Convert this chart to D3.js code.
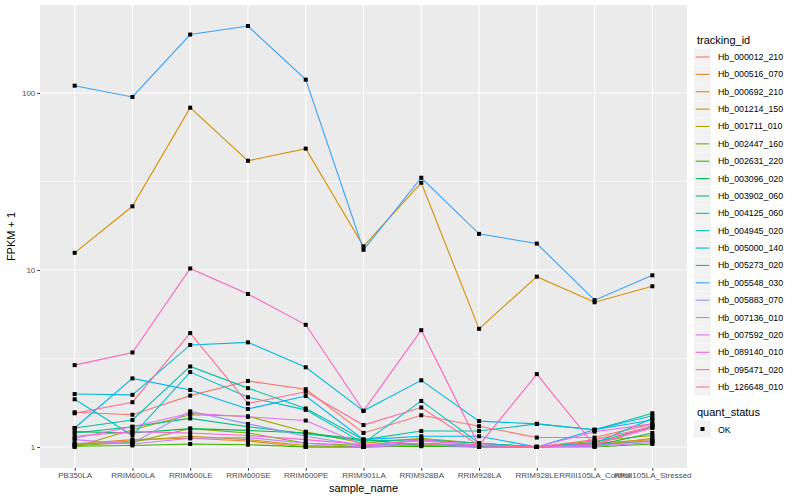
<!DOCTYPE html>
<html><head><meta charset="utf-8">
<script src="https://cdn.jsdelivr.net/npm/d3@7"></script>
<style>body{margin:0;background:#fff}text{font-family:"Liberation Sans",Arial,sans-serif}</style>
</head><body><svg id="c" width="800" height="500"></svg>
<script>
const samples = ["PB350LA","RRIM600LA","RRIM600LE","RRIM600SE","RRIM600PE","RRIM901LA","RRIM928BA","RRIM928LA","RRIM928LE","RRIII105LA_Control","RRIII105LA_Stressed"];
const trackingIds = ["Hb_000012_210","Hb_000516_070","Hb_000692_210","Hb_001214_150","Hb_001711_010","Hb_002447_160","Hb_002631_220","Hb_003096_020","Hb_003902_060","Hb_004125_060","Hb_004945_020","Hb_005000_140","Hb_005273_020","Hb_005548_030","Hb_005883_070","Hb_007136_010","Hb_007592_020","Hb_089140_010","Hb_095471_020","Hb_126648_010"];
const colors = ["#F8766D","#EA8331","#D89000","#C09B00","#A3A500","#7CAE00","#39B600","#00BB4E","#00BF7D","#00C1A3","#00BFC4","#00BAE0","#00B0F6","#35A2FF","#9590FF","#C77CFF","#E76BF3","#FA62DB","#FF62BC","#FF6C91"];
const v000012 = [1.57,1.52,1.95,2.36,2.12,1.20,1.51,1.31,1.13,1.13,1.35];
const v000516 = [1.04,1.10,1.12,1.08,1.00,1.00,1.02,1.00,1.00,1.05,1.10];
const v000692 = [12.5,22.9,82.6,41.4,48.5,13.6,31.1,4.65,9.17,6.57,8.09];
const v001214 = [1.03,1.08,1.15,1.10,1.02,1.00,1.04,1.00,1.00,1.02,1.12];
const v001711 = [1.00,1.25,1.52,1.49,1.22,1.05,1.12,1.05,1.00,1.08,1.16];
const v002447 = [1.02,1.06,1.27,1.20,1.05,1.02,1.05,1.02,1.00,1.03,1.08];
const v002631 = [1.01,1.02,1.04,1.03,1.00,1.00,1.01,1.00,1.00,1.00,1.04];
const v003096 = [1.22,1.20,1.27,1.24,1.20,1.10,1.02,1.01,1.00,1.02,1.20];
const v003902 = [1.20,1.30,1.45,1.30,1.19,1.08,1.10,1.05,1.00,1.06,1.30];
const v004125 = [1.28,1.42,2.85,2.15,1.65,1.10,1.23,1.23,1.35,1.25,1.55];
const v004945 = [1.86,1.16,2.65,1.91,1.62,1.05,1.82,1.05,1.00,1.05,1.45];
const v005000 = [1.99,1.97,3.77,3.90,2.82,1.60,2.38,1.40,1.35,1.25,1.50];
const v005273 = [1.28,2.44,2.10,1.64,1.94,1.10,1.15,1.15,1.00,1.25,1.42];
const v005548 = [110,95,214,239,119,13.0,33.2,16.0,14.1,6.75,9.33];
const v005883 = [1.05,1.05,1.59,1.35,1.15,1.02,1.05,1.02,1.00,1.02,1.08];
const v007136 = [1.10,1.04,1.12,1.13,1.05,1.00,1.03,1.00,1.00,1.01,1.06];
const v007592 = [1.12,1.30,1.55,1.48,1.41,1.02,1.10,1.02,1.00,1.22,1.35];
const v089140 = [1.15,1.22,1.20,1.16,1.10,1.03,1.08,1.03,1.00,1.04,1.28];
const v095471 = [2.90,3.42,10.2,7.32,4.90,1.60,4.57,1.02,2.58,1.02,1.32];
const v126648 = [1.55,1.79,4.40,1.76,2.05,1.33,1.67,1.02,1.00,1.10,1.30];
const seriesValues = [v000012,v000516,v000692,v001214,v001711,v002447,v002631,v003096,v003902,v004125,v004945,v005000,v005273,v005548,v005883,v007136,v007592,v089140,v095471,v126648];
const yTicks = [1,10,100];
const yMinor = [Math.sqrt(10), Math.sqrt(1000)];

const svg = d3.select("#c");
const P = {l:40, r:687, t:5, b:468};
const all = seriesValues.flat();
const lmin = Math.log10(d3.min(all)), lmax = Math.log10(d3.max(all));
const ex = (lmax - lmin) * 0.05;
const y = d3.scaleLog().domain([Math.pow(10, lmin - ex), Math.pow(10, lmax + ex)]).range([P.b, P.t]);
const x = d3.scalePoint().domain(samples).range([P.l, P.r]).padding(0.6);

svg.append("rect").attr("x",P.l).attr("y",P.t).attr("width",P.r-P.l).attr("height",P.b-P.t).attr("fill","#EBEBEB");
const g = svg.append("g");
yMinor.forEach(v => g.append("line").attr("x1",P.l).attr("x2",P.r).attr("y1",y(v)).attr("y2",y(v)).attr("stroke","#fff").attr("stroke-width",0.55));
yTicks.forEach(v => g.append("line").attr("x1",P.l).attr("x2",P.r).attr("y1",y(v)).attr("y2",y(v)).attr("stroke","#fff").attr("stroke-width",1.1));
samples.forEach(s => g.append("line").attr("x1",x(s)).attr("x2",x(s)).attr("y1",P.t).attr("y2",P.b).attr("stroke","#fff").attr("stroke-width",1.1));

const line = d3.line().x((d,i)=>x(samples[i])).y(d=>y(d));
seriesValues.forEach((vals,k) => {
  svg.append("path").attr("d", line(vals)).attr("fill","none").attr("stroke",colors[k]).attr("stroke-width",1.1);
});
seriesValues.forEach(vals => {
  vals.forEach((v,i) => svg.append("rect").attr("x",x(samples[i])-2).attr("y",y(v)-2).attr("width",4).attr("height",4).attr("fill","#000"));
});

// axes
const ya = svg.append("g").attr("transform",`translate(${P.l},0)`).call(d3.axisLeft(y).tickValues(yTicks).tickFormat(d3.format("d")).tickSize(2.7).tickPadding(2));
const xa = svg.append("g").attr("transform",`translate(0,${P.b})`).call(d3.axisBottom(x).tickSize(2.7).tickPadding(2));
[ya,xa].forEach(a => { a.select(".domain").remove(); a.selectAll("line").attr("stroke","#333"); a.selectAll("text").attr("fill","#4D4D4D").style("font-size","8px"); });

svg.append("text").attr("x",(P.l+P.r)/2).attr("y",492).attr("text-anchor","middle").style("font-size","11px").attr("fill","#000").text("sample_name");
svg.append("text").attr("transform",`translate(15,${(P.t+P.b)/2}) rotate(-90)`).attr("text-anchor","middle").style("font-size","11px").attr("fill","#000").text("FPKM + 1");

// legend
const L = svg.append("g");
L.append("text").attr("x",697).attr("y",44).style("font-size","11px").text("tracking_id");
const step = 17.37, ky0 = 48.5;
trackingIds.forEach((t,k) => {
  const yy = ky0 + k*step;
  L.append("rect").attr("x",694).attr("y",yy).attr("width",17).attr("height",17).attr("fill","#F2F2F2");
  L.append("line").attr("x1",695.7).attr("x2",709.3).attr("y1",yy+8.5).attr("y2",yy+8.5).attr("stroke",colors[k]).attr("stroke-width",1.1);
  L.append("text").attr("x",718).attr("y",yy+11.5).style("font-size","8.8px").text(t);
});
L.append("text").attr("x",697).attr("y",416).style("font-size","11px").text("quant_status");
L.append("rect").attr("x",694).attr("y",420.5).attr("width",17).attr("height",17).attr("fill","#F2F2F2");
L.append("rect").attr("x",700.5).attr("y",427).attr("width",4).attr("height",4).attr("fill","#000");
L.append("text").attr("x",718).attr("y",432.5).style("font-size","8.8px").text("OK");
</script></body></html>
